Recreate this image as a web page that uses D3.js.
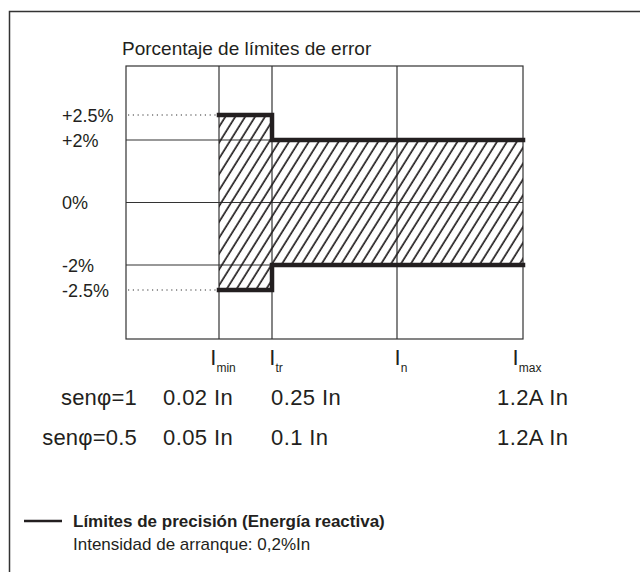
<!DOCTYPE html>
<html>
<head>
<meta charset="utf-8">
<script src="https://cdn.jsdelivr.net/npm/d3@7"></script>
<style>
  body { margin: 0; background: #fff; }
  svg text { font-family: Arial, "Liberation Sans", sans-serif; fill: #231f20; }
</style>
</head>
<body>
<svg id="chart" width="640" height="572"></svg>
<script>
// data
const yTicks = [2.5, 2, 0, -2, -2.5];
const yTickLabels = ["+2.5%", "+2%", "0%", "-2%", "-2.5%"];
const gridY = [2, 0, -2];
const currents = ["Imin", "Itr", "In", "Imax"];
const currentSubs = ["min", "tr", "n", "max"];
const upperLimit = [["Imin", 2.5], ["Itr", 2.5], ["Itr", 2], ["Imax", 2]];
const lowerLimit = [["Imin", -2.5], ["Itr", -2.5], ["Itr", -2], ["Imax", -2]];
const rowLabels = ["senφ=1", "senφ=0.5"];
const rowValues = [
  ["0.02 In", "0.25 In", "", "1.2A In"],
  ["0.05 In", "0.1 In", "", "1.2A In"]
];
const title = "Porcentaje de límites de error";
const legendTitle = "Límites de precisión (Energía reactiva)";
const legendNote = "Intensidad de arranque: 0,2%In";

const svg = d3.select("#chart");
const margin = {top: 66, left: 126};
const plotW = 397, plotH = 273;

// outer frame (top + left only)
svg.append("path")
   .attr("d", "M9.5,572 V11.5 H640")
   .attr("fill", "none")
   .attr("stroke", "#333")
   .attr("stroke-width", 1.5);

const g = svg.append("g").attr("transform", `translate(${margin.left},${margin.top})`);

// schematic scales (not to scale in the original)
const x = d3.scaleOrdinal().domain(["origin"].concat(currents)).range([0, 93, 146, 271, plotW]);
const y = d3.scaleLinear().domain([-3.5, -2.5, -2, 2, 2.5, 3.5]).range([plotH, 224, 199, 74, 49, 0]);

// hatch pattern
const defs = svg.append("defs");
defs.append("pattern")
    .attr("id", "hatch")
    .attr("patternUnits", "userSpaceOnUse")
    .attr("width", 8.4).attr("height", 20)
    .attr("patternTransform", "rotate(32)")
  .append("line")
    .attr("x1", 2).attr("x2", 2).attr("y1", 0).attr("y2", 20)
    .attr("stroke", "#231f20").attr("stroke-width", 1.7);

// grid
g.selectAll(".gy").data(gridY).join("line")
  .attr("x1", 0).attr("x2", plotW)
  .attr("y1", d => y(d)).attr("y2", d => y(d))
  .attr("stroke", "#333").attr("stroke-width", 1.2);
g.selectAll(".gx").data(currents.slice(0, 3)).join("line")
  .attr("x1", d => x(d)).attr("x2", d => x(d))
  .attr("y1", 0).attr("y2", plotH)
  .attr("stroke", "#333").attr("stroke-width", 1.2);
g.append("rect")
  .attr("width", plotW).attr("height", plotH)
  .attr("fill", "none").attr("stroke", "#333").attr("stroke-width", 1.2);

// dotted leaders to the 2.5% steps
g.selectAll(".dot").data([2.5, -2.5]).join("line")
  .attr("x1", 2).attr("x2", x("Imin"))
  .attr("y1", d => y(d)).attr("y2", d => y(d))
  .attr("stroke", "#333").attr("stroke-width", 1.2)
  .attr("stroke-dasharray", "1.2,3.6");

// hatched band
const area = d3.area().curve(d3.curveLinear)
  .x(d => x(d[0])).y0(d => y(d[1])).y1(d => y(-d[1]));
g.append("path")
  .attr("d", area(upperLimit))
  .attr("fill", "url(#hatch)");

// limit lines
const line = d3.line().x(d => x(d[0])).y(d => y(d[1]));
[upperLimit, lowerLimit].forEach(lim => {
  g.append("path")
    .attr("d", line(lim))
    .attr("fill", "none")
    .attr("stroke", "#231f20")
    .attr("stroke-width", 4.5)
    .attr("stroke-linejoin", "miter")
    .attr("stroke-linecap", "square");
});

// title
svg.append("text").attr("x", 122).attr("y", 55)
  .attr("font-size", 19).text(title);

// y labels
svg.selectAll(".ylab").data(yTicks).join("text")
  .attr("x", 62)
  .attr("y", d => margin.top + y(d) + 6.5)
  .attr("font-size", 18)
  .text((d, i) => yTickLabels[i]);

// x labels: I with subscript
currents.forEach((c, i) => {
  const t = svg.append("text")
    .attr("x", margin.left + x(c) + 4)
    .attr("y", 365)
    .attr("text-anchor", "middle")
    .attr("font-size", 22);
  t.append("tspan").text("I");
  t.append("tspan").attr("font-size", 12).attr("dy", 7).text(currentSubs[i]);
});

// table rows
const rowY = [405, 445];
rowLabels.forEach((r, i) => {
  svg.append("text").attr("x", 137).attr("y", rowY[i])
    .attr("text-anchor", "end").attr("font-size", 22).attr("letter-spacing", 0.2).text(r);
  rowValues[i].forEach((v, j) => {
    if (!v) return;
    const xPos = j === 3 ? 497 : margin.left + x(currents[j]) - (j === 0 ? 56 : 1);
    svg.append("text").attr("x", xPos).attr("y", rowY[i])
      .attr("font-size", 22).attr("letter-spacing", 0.4).text(v);
  });
});

// legend
svg.append("line")
  .attr("x1", 24).attr("x2", 62).attr("y1", 521).attr("y2", 521)
  .attr("stroke", "#231f20").attr("stroke-width", 2.5);
svg.append("text").attr("x", 73).attr("y", 527)
  .attr("font-size", 17).attr("font-weight", "bold").text(legendTitle);
svg.append("text").attr("x", 73).attr("y", 550)
  .attr("font-size", 17).text(legendNote);
</script>
</body>
</html>
